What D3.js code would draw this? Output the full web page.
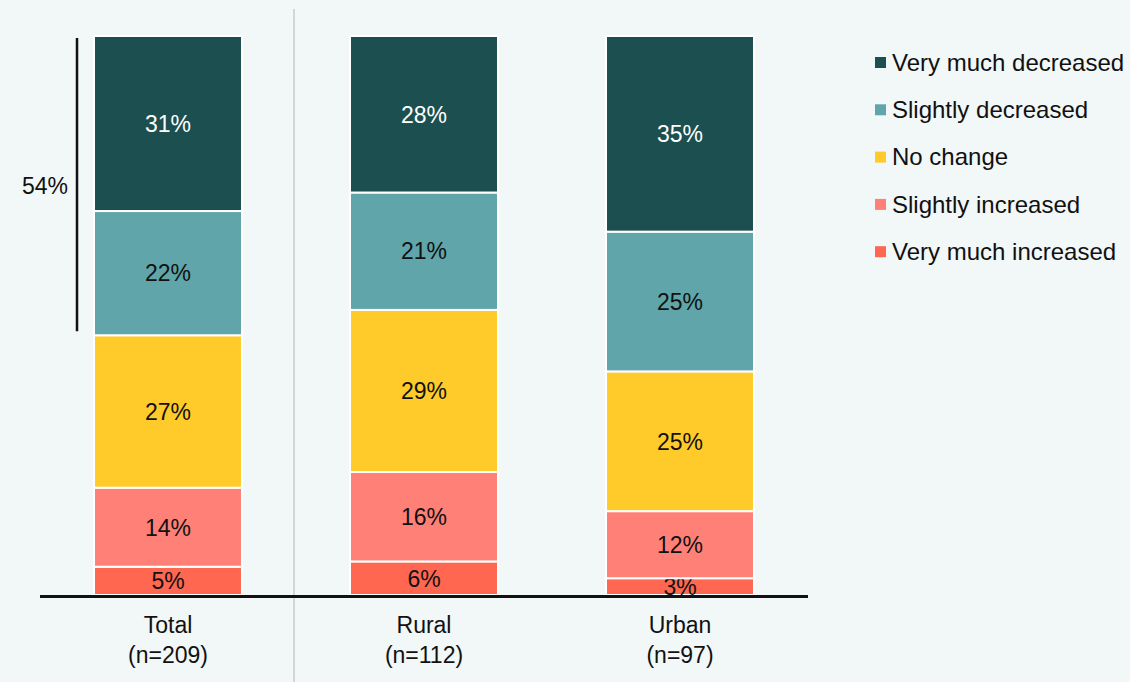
<!DOCTYPE html>
<html>
<head>
<meta charset="utf-8">
<script src="https://cdn.jsdelivr.net/npm/d3@7"></script>
<style>
  body { margin: 0; background: #f2f7f7; }
  svg { display: block; font-family: "Liberation Sans", Arial, sans-serif; }
</style>
</head>
<body>
<script>
var width = 1130;
var height = 682;

// data
var groups = ["Total", "Rural", "Urban"];
var groupN = ["(n=209)", "(n=112)", "(n=97)"];
var answers = ["Very much increased", "Slightly increased", "No change", "Slightly decreased", "Very much decreased"];
var veryIncreased = [5, 6, 3];
var slightIncreased = [14, 16, 12];
var noChange = [27, 29, 25];
var slightDecreased = [22, 21, 25];
var veryDecreased = [31, 28, 35];
var colours = ["#ff6750", "#ff8077", "#ffcb2a", "#5fa5aa", "#1b4f50"];
var bracketLabel = "54%";

var rows = groups.map( (g, i) => ({
    group: g,
    "Very much increased": veryIncreased[i],
    "Slightly increased": slightIncreased[i],
    "No change": noChange[i],
    "Slightly decreased": slightDecreased[i],
    "Very much decreased": veryDecreased[i]
}));

var series = d3.stack().keys(answers).offset(d3.stackOffsetExpand)(rows);

var x = d3.scaleBand().domain(groups).range([40, 808]).paddingInner(0.422).paddingOuter(0.211);
var y = d3.scaleLinear().domain([0, 1]).range([595, 36]);
var colour = d3.scaleOrdinal().domain(answers).range(colours);

var svg = d3.select("body").append("svg")
    .attr("width", width)
    .attr("height", height);

// divider between total and subgroups
svg.append("line")
    .attr("x1", 294).attr("x2", 294)
    .attr("y1", 9).attr("y2", height)
    .attr("stroke", "#d2d6d6")
    .attr("stroke-width", 2);

var layers = svg.selectAll("g.layer")
    .data(series)
    .enter().append("g")
    .attr("class", "layer")
    .attr("fill", (d) => colour(d.key));

layers.selectAll("rect")
    .data((d) => d)
    .enter().append("rect")
    .attr("x", (d) => x(d.data.group))
    .attr("width", x.bandwidth())
    .attr("y", (d) => y(d[1]))
    .attr("height", (d) => y(d[0]) - y(d[1]))
    .attr("stroke", "#ffffff")
    .attr("stroke-width", 2);

layers.selectAll("text")
    .data((d) => d.map( (p) => Object.assign(p, {key: d.key}) ))
    .enter().append("text")
    .attr("x", (d) => x(d.data.group) + x.bandwidth() / 2)
    .attr("y", (d) => (y(d[0]) + y(d[1])) / 2)
    .attr("dy", "0.36em")
    .attr("text-anchor", "middle")
    .attr("font-size", 23)
    .attr("fill", (d) => d.key === "Very much decreased" ? "#ffffff" : "#111111")
    .text((d) => d.data[d.key] + "%");

// baseline
svg.append("line")
    .attr("x1", 40).attr("x2", 808)
    .attr("y1", y(0) + 1.5).attr("y2", y(0) + 1.5)
    .attr("stroke", "#111")
    .attr("stroke-width", 3);

// category labels
var cat = svg.selectAll("text.cat")
    .data(groups)
    .enter().append("text")
    .attr("class", "cat")
    .attr("text-anchor", "middle")
    .attr("font-size", 23)
    .attr("fill", "#111");
cat.append("tspan")
    .attr("x", (d) => x(d) + x.bandwidth() / 2)
    .attr("y", 633)
    .text((d) => d);
cat.append("tspan")
    .attr("x", (d) => x(d) + x.bandwidth() / 2)
    .attr("y", 663)
    .text((d, i) => groupN[i]);

// bracket for total decreased
var totalDec = series[4][0];
var decLow = series[3][0][0];
svg.append("line")
    .attr("x1", 77).attr("x2", 77)
    .attr("y1", y(totalDec[1]) + 2)
    .attr("y2", y(decLow) - 4)
    .attr("stroke", "#111")
    .attr("stroke-width", 2.5);
svg.append("text")
    .attr("x", 68)
    .attr("y", (y(totalDec[1]) + y(decLow)) / 2)
    .attr("dy", "0.36em")
    .attr("text-anchor", "end")
    .attr("font-size", 23)
    .attr("fill", "#111")
    .text(bracketLabel);

// legend
var legend = svg.selectAll("g.legend")
    .data(answers.slice().reverse())
    .enter().append("g")
    .attr("class", "legend")
    .attr("transform", (d, i) => `translate(875, ${62 + i * 47.3})`);
legend.append("rect")
    .attr("x", 0).attr("y", -5)
    .attr("width", 11).attr("height", 11)
    .attr("fill", (d) => colour(d));
legend.append("text")
    .attr("x", 17)
    .attr("dy", "0.36em")
    .attr("font-size", 24)
    .attr("fill", "#111")
    .text((d) => d);
</script>
</body>
</html>
